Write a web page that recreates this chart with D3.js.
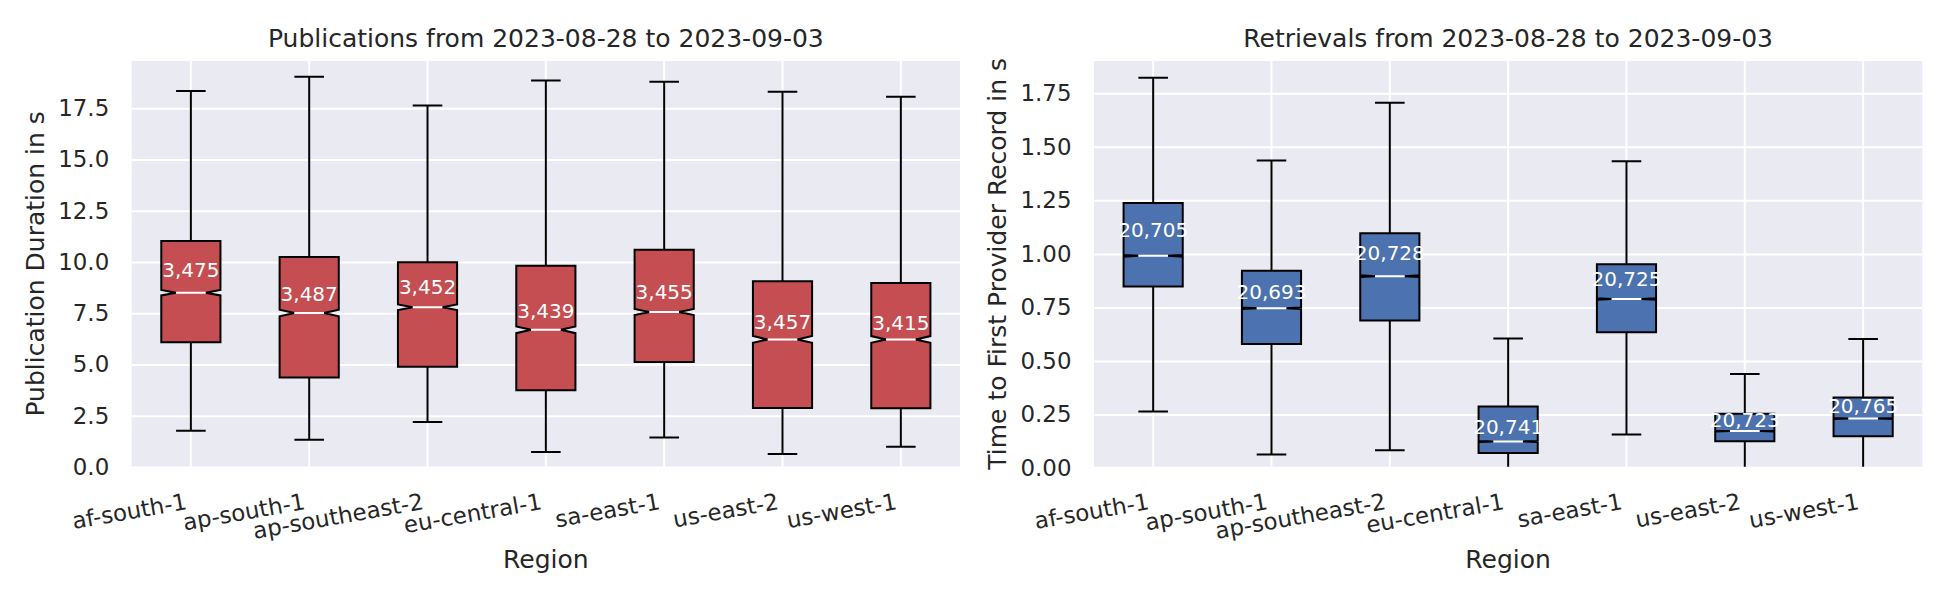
<!DOCTYPE html>
<html>
<head>
<meta charset="utf-8">
<script src="https://cdn.jsdelivr.net/npm/d3@7"></script>
<style>
  body { margin: 0; background: #fff; }
  text { font-family: "DejaVu Sans", sans-serif; fill: #262626; }
</style>
</head>
<body>
<svg id="chart" width="1950" height="600"></svg>
<script>
const regions = ["af-south-1", "ap-south-1", "ap-southeast-2", "eu-central-1", "sa-east-1", "us-east-2", "us-west-1"]

// publications (seconds)
const pubLow    = [1.77, 1.33, 2.20, 0.73, 1.44, 0.64, 0.99]
const pubQ1     = [6.08, 4.36, 4.89, 3.74, 5.12, 2.88, 2.86]
const pubMedian = [8.50, 7.51, 7.79, 6.69, 7.56, 6.22, 6.22]
const pubQ3     = [11.02, 10.24, 9.99, 9.81, 10.59, 9.06, 8.97]
const pubHigh   = [18.34, 19.03, 17.63, 18.85, 18.79, 18.30, 18.06]
const pubCount  = [3475, 3487, 3452, 3439, 3455, 3457, 3415]
const pubMean   = [9.61, 8.46, 8.78, 7.62, 8.55, 7.06, 7.00]
const pubTicks  = [0, 2.5, 5, 7.5, 10, 12.5, 15, 17.5]

// retrievals (seconds)
const retLow    = [0.264, 0.064, 0.084, 0.0, 0.157, 0.0, 0.0]
const retQ1     = [0.848, 0.580, 0.689, 0.071, 0.634, 0.126, 0.149]
const retMedian = [0.991, 0.746, 0.896, 0.125, 0.789, 0.173, 0.232]
const retQ3     = [1.238, 0.921, 1.096, 0.288, 0.952, 0.254, 0.330]
const retHigh   = [1.822, 1.436, 1.705, 0.605, 1.432, 0.440, 0.603]
const retCount  = [20705, 20693, 20728, 20741, 20725, 20723, 20765]
const retMean   = [1.111, 0.821, 1.004, 0.191, 0.882, 0.223, 0.289]
const retTicks  = [0, 0.25, 0.5, 0.75, 1.0, 1.25, 1.5, 1.75]

const svg = d3.select("#chart")
const plotTop = 61, plotBottom = 466.7

const drawPanel = (opts) => {
    const { id, left, right, yMax, yZero, ticks, fmt, color, title, ylabel, low, q1, med, q3, high, count, mean } = opts
    const w = right - left, h = plotBottom - plotTop

    const x = d3.scaleBand().domain(regions).range([0, w]).padding(0)
    const y = d3.scaleLinear().domain([0, yMax]).range([yZero - plotTop, 0])
    const bw = x.bandwidth() * 0.5
    const cx = (r) => x(r) + x.bandwidth() / 2

    const g = svg.append("g").attr("transform", `translate(${left},${plotTop})`)

    g.append("clipPath").attr("id", "clip-" + id)
        .append("rect").attr("width", w).attr("height", h)

    g.append("rect").attr("width", w).attr("height", h).attr("fill", "#EAEAF2")

    // y grid + labels
    const ya = g.append("g")
        .call(d3.axisLeft(y).tickValues(ticks).tickFormat(d3.format(fmt)).tickSize(-w).tickPadding(22.5))
    ya.select(".domain").remove()
    ya.selectAll("line").attr("stroke", "#fff").attr("stroke-width", 2)
    ya.selectAll("text").attr("font-size", 22.9).attr("fill", "#262626")
        .attr("font-family", "DejaVu Sans")

    // x grid + rotated labels
    const xa = g.append("g").attr("transform", `translate(0,${h})`)
        .call(d3.axisBottom(x).tickSize(-h).tickPadding(0))
    xa.select(".domain").remove()
    xa.selectAll("line").attr("stroke", "#fff").attr("stroke-width", 2)
    xa.selectAll("text")
        .attr("y", null).attr("dy", null)
        .attr("text-anchor", "end")
        .attr("transform", "translate(-3,42.3) rotate(-10)")
        .attr("font-size", 22.9).attr("fill", "#262626")
        .attr("font-family", "DejaVu Sans")

    const plot = g.append("g").attr("clip-path", `url(#clip-${id})`)

    regions.forEach((r, i) => {
        const c = cx(r)
        const bl = c - bw / 2, br = c + bw / 2
        const cl = c - bw / 4, cr = c + bw / 4

        // whiskers and caps
        plot.append("line").attr("x1", c).attr("x2", c)
            .attr("y1", y(q1[i])).attr("y2", y(low[i]))
            .attr("stroke", "#000").attr("stroke-width", 2)
        plot.append("line").attr("x1", c).attr("x2", c)
            .attr("y1", y(q3[i])).attr("y2", y(high[i]))
            .attr("stroke", "#000").attr("stroke-width", 2)
        ;[low[i], high[i]].forEach(v => {
            plot.append("line").attr("x1", cl).attr("x2", cr)
                .attr("y1", y(v)).attr("y2", y(v))
                .attr("stroke", "#000").attr("stroke-width", 2)
        })

        // notched box, notch = median +- 1.57 * IQR / sqrt(n)
        const ci = 1.57 * (q3[i] - q1[i]) / Math.sqrt(count[i])
        const lo = med[i] - ci, hi = med[i] + ci
        const pts = [
            [bl, q1[i]], [br, q1[i]], [br, lo], [cr, med[i]], [br, hi], [br, q3[i]],
            [bl, q3[i]], [bl, hi], [cl, med[i]], [bl, lo]
        ]
        plot.append("path")
            .attr("d", d3.line().x(d => d[0]).y(d => y(d[1]))(pts) + "Z")
            .attr("fill", color).attr("stroke", "#000").attr("stroke-width", 2)
            .attr("stroke-linejoin", "miter")

        // median
        plot.append("line").attr("x1", cl).attr("x2", cr)
            .attr("y1", y(med[i])).attr("y2", y(med[i]))
            .attr("stroke", "#fff").attr("stroke-width", 2)

        // sample count
        g.append("text").attr("x", c).attr("y", y(mean[i]))
            .attr("text-anchor", "middle").attr("dominant-baseline", "central")
            .attr("font-size", 20).style("fill", "#fff")
            .text(d3.format(",")(count[i]))
    })

    g.append("text").attr("x", w / 2).attr("y", 46.7 - plotTop)
        .attr("text-anchor", "middle").attr("font-size", 25).text(title)

    g.append("text").attr("x", w / 2).attr("y", 568.3 - plotTop)
        .attr("text-anchor", "middle").attr("font-size", 25).text("Region")

    g.append("text")
        .attr("transform", `translate(-88,${h / 2}) rotate(-90)`)
        .attr("text-anchor", "middle").attr("font-size", 25).text(ylabel)
}

drawPanel({
    id: "pub", left: 131.7, right: 960, yMax: 19.8, yZero: 467, ticks: pubTicks, fmt: ".1f",
    color: "#C44E52", title: "Publications from 2023-08-28 to 2023-09-03",
    ylabel: "Publication Duration in s",
    low: pubLow, q1: pubQ1, med: pubMedian, q3: pubQ3, high: pubHigh, count: pubCount, mean: pubMean
})

drawPanel({
    id: "ret", left: 1094, right: 1922.3, yMax: 1.9, yZero: 468.2, ticks: retTicks, fmt: ".2f",
    color: "#4C72B0", title: "Retrievals from 2023-08-28 to 2023-09-03",
    ylabel: "Time to First Provider Record in s",
    low: retLow, q1: retQ1, med: retMedian, q3: retQ3, high: retHigh, count: retCount, mean: retMean
})
</script>
</body>
</html>
